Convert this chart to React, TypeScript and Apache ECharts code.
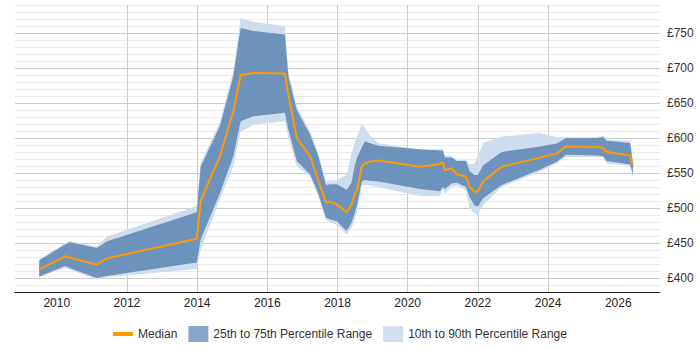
import React, { useEffect, useRef } from "react";
import * as echarts from "echarts";

const years = [
  2009.5, 2010.24, 2010.38, 2011.14, 2011.42, 2013.99, 2014.1, 2014.65, 2015.03, 2015.24,
  2015.6, 2016.5, 2016.6, 2016.84, 2017.22, 2017.45, 2017.67, 2017.79, 2017.98, 2018.26,
  2018.4, 2018.5, 2018.56, 2018.69, 2018.78, 2018.92, 2019.16, 2020.35, 2020.92, 2021.0,
  2021.06, 2021.25, 2021.4, 2021.66, 2021.76, 2021.9, 2022.0, 2022.15, 2022.68, 2023.77,
  2024.25, 2024.51, 2025.38, 2025.57, 2025.67, 2026.34, 2026.42,
];
const median = [
  412, 431, 429, 419, 428, 456, 510, 574, 638, 690,
  693, 692, 662, 600, 574, 540, 508, 509, 505, 494,
  505, 521, 526, 559, 564, 566, 568, 559, 563, 565,
  554, 557, 548, 545, 530, 523, 524, 538, 559, 572,
  578, 588, 587, 586, 580, 575, 560,
];
const p75 = [
  425, 448, 451, 443, 452, 494, 559, 617, 688, 757,
  753, 748, 688, 640, 605, 575, 533, 534, 534, 526,
  536, 562, 572, 586, 595, 593, 589, 584, 582, 582,
  572, 572, 567, 567, 553, 547, 547, 561, 580, 588,
  592, 600, 600, 601, 596, 593, 562,
];
const p25 = [
  402, 417, 414, 400, 403, 422, 455, 521, 574, 624,
  631, 636, 612, 567, 548, 521, 486, 484, 481, 467,
  479, 494, 505, 538, 540, 539, 538, 527, 524, 530,
  527, 535, 536, 530, 516, 504, 502, 514, 533, 555,
  566, 576, 575, 574, 567, 562, 548,
];
const p90 = [
  427, 450, 453, 445, 459, 503, 565, 623, 695, 771,
  766, 760, 695, 645, 610, 578, 538, 539, 540, 548,
  578, 595, 602, 620, 615, 604, 593, 583, 584, 584,
  575, 574, 569, 569, 563, 563, 575, 593, 602, 607,
  601, 601, 601, 603, 598, 596, 565,
];
const p10 = [
  401, 415, 412, 398, 401, 413, 440, 513, 559, 609,
  619, 624, 600, 560, 545, 517, 483, 480, 476, 462,
  471, 485, 495, 531, 533, 532, 530, 517, 517, 527,
  520, 530, 532, 525, 500, 492, 490, 504, 530, 552,
  564, 573, 573, 572, 564, 560, 544,
];
const yearTicks = [2010, 2012, 2014, 2016, 2018, 2020, 2022, 2024, 2026];

const FONT = "'Liberation Sans', Arial, sans-serif";

function bandRender(lo: number[], hi: number[], color: string) {
  return (params: any, api: any) => {
    if (params.dataIndex !== 0) return null;
    const pts: number[][] = [];
    for (let i = 0; i < years.length; i++) pts.push(api.coord([years[i], hi[i]]));
    for (let i = years.length - 1; i >= 0; i--) pts.push(api.coord([years[i], lo[i]]));
    return { type: "polygon", shape: { points: pts }, style: { fill: color } };
  };
}

export default function App() {
  const ref = useRef<HTMLDivElement>(null);
  useEffect(() => {
    if (!ref.current) return;
    const chart = echarts.init(ref.current, null, { renderer: "svg" });
    const light = "#cdddee";
    const dark = "#6d92bc";
    chart.setOption({
      animation: false,
      textStyle: { fontFamily: FONT },
      grid: { left: 15, right: 40, top: 5, bottom: 58, containLabel: false, outerBoundsMode: "none" },
      xAxis: {
        type: "value",
        min: 2008.81,
        max: 2027.19,
        axisLine: { show: true, lineStyle: { color: "#222", width: 1 } },
        axisTick: { show: false, customValues: yearTicks },
        axisLabel: {
          color: "#222",
          fontSize: 12,
          fontFamily: FONT,
          margin: 5,
          customValues: yearTicks,
          formatter: (v: number) => String(Math.round(v)),
        },
        splitLine: { show: true, showMinLine: false, showMaxLine: false, lineStyle: { color: "#cccccc", width: 1 } },
      },
      yAxis: {
        type: "value",
        position: "right",
        min: 380,
        max: 790,
        interval: 10,
        axisLine: { show: false },
        axisTick: { show: false },
        axisLabel: {
          color: "#333",
          fontSize: 12,
          fontFamily: FONT,
          margin: 7,
          formatter: (v: number) => (v % 50 === 0 ? "£" + v : ""),
        },
        splitLine: {
          show: true,
          lineStyle: { color: ["#ebebeb", "#ebebeb", "#cccccc", "#ebebeb", "#ebebeb"], width: 1 },
        },
      },
      legend: {
        left: 108,
        top: 321,
        padding: 5,
        itemWidth: 20,
        itemHeight: 16,
        itemGap: 11,
        textStyle: { color: "#333", fontSize: 12, fontFamily: FONT },
        data: [
          { name: "Median", icon: "path://M0,0H20V4H0Z", itemStyle: { color: "#ff9900" } },
          { name: "25th to 75th Percentile Range", icon: "rect", itemStyle: { color: "#87a5c6" } },
          { name: "10th to 90th Percentile Range", icon: "rect", itemStyle: { color: "#d0dff0" } },
        ],
      },
      series: [
        {
          name: "10th to 90th Percentile Range",
          type: "custom",
          z: 1,
          itemStyle: { color: light },
          data: years.map((x, i) => [x, p10[i], p90[i]]),
          encode: { x: 0, y: [1, 2] },
          renderItem: bandRender(p10, p90, light),
        },
        {
          name: "25th to 75th Percentile Range",
          type: "custom",
          z: 2,
          itemStyle: { color: dark },
          data: years.map((x, i) => [x, p25[i], p75[i]]),
          encode: { x: 0, y: [1, 2] },
          renderItem: bandRender(p25, p75, dark),
        },
        {
          name: "Median",
          type: "line",
          z: 3,
          symbol: "none",
          showSymbol: false,
          color: "#ff9900",
          lineStyle: { color: "#ff9900", width: 2 },
          data: years.map((x, i) => [x, median[i]]),
        },
      ],
    });
    return () => chart.dispose();
  }, []);
  return (
    <div
      ref={ref}
      style={{ position: "absolute", left: 0, top: 0, width: 700, height: 350 }}
    />
  );
}
